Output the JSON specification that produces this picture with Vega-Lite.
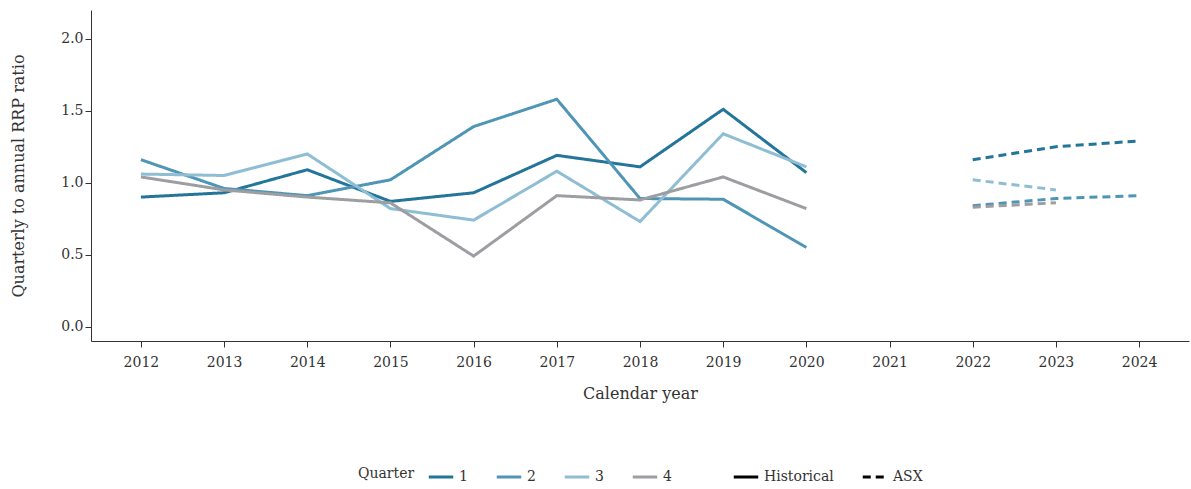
{
  "$schema": "https://vega.github.io/schema/vega-lite/v6.json",
  "width": 1098,
  "height": 331,
  "padding": {"left": 10, "top": 10, "right": 1, "bottom": 2},
  "config": {
    "font": "DejaVu Serif",
    "view": {"stroke": null},
    "axis": {"grid": false, "labelFontSize": 14, "titleFontSize": 16, "titleFontWeight": "normal", "labelColor": "#333", "titleColor": "#333", "domainColor": "#333", "tickColor": "#333"},
    "legend": {"labelFontSize": 14, "titleFontSize": 14, "titleFontWeight": "normal", "titleColor": "#333", "labelColor": "#333",
      "layout": {"bottom": {"anchor": "middle", "direction": "horizontal", "margin": 60}}}
  },
  "data": {"values": [
    {"year": 2012, "q": "1", "src": "Historical", "v": 0.90},
    {"year": 2013, "q": "1", "src": "Historical", "v": 0.93},
    {"year": 2014, "q": "1", "src": "Historical", "v": 1.09},
    {"year": 2015, "q": "1", "src": "Historical", "v": 0.87},
    {"year": 2016, "q": "1", "src": "Historical", "v": 0.93},
    {"year": 2017, "q": "1", "src": "Historical", "v": 1.19},
    {"year": 2018, "q": "1", "src": "Historical", "v": 1.11},
    {"year": 2019, "q": "1", "src": "Historical", "v": 1.51},
    {"year": 2020, "q": "1", "src": "Historical", "v": 1.07},
    {"year": 2012, "q": "2", "src": "Historical", "v": 1.16},
    {"year": 2013, "q": "2", "src": "Historical", "v": 0.96},
    {"year": 2014, "q": "2", "src": "Historical", "v": 0.91},
    {"year": 2015, "q": "2", "src": "Historical", "v": 1.02},
    {"year": 2016, "q": "2", "src": "Historical", "v": 1.39},
    {"year": 2017, "q": "2", "src": "Historical", "v": 1.58},
    {"year": 2018, "q": "2", "src": "Historical", "v": 0.89},
    {"year": 2019, "q": "2", "src": "Historical", "v": 0.885},
    {"year": 2020, "q": "2", "src": "Historical", "v": 0.55},
    {"year": 2012, "q": "3", "src": "Historical", "v": 1.06},
    {"year": 2013, "q": "3", "src": "Historical", "v": 1.05},
    {"year": 2014, "q": "3", "src": "Historical", "v": 1.20},
    {"year": 2015, "q": "3", "src": "Historical", "v": 0.82},
    {"year": 2016, "q": "3", "src": "Historical", "v": 0.74},
    {"year": 2017, "q": "3", "src": "Historical", "v": 1.08},
    {"year": 2018, "q": "3", "src": "Historical", "v": 0.73},
    {"year": 2019, "q": "3", "src": "Historical", "v": 1.34},
    {"year": 2020, "q": "3", "src": "Historical", "v": 1.11},
    {"year": 2012, "q": "4", "src": "Historical", "v": 1.04},
    {"year": 2013, "q": "4", "src": "Historical", "v": 0.95},
    {"year": 2014, "q": "4", "src": "Historical", "v": 0.90},
    {"year": 2015, "q": "4", "src": "Historical", "v": 0.86},
    {"year": 2016, "q": "4", "src": "Historical", "v": 0.49},
    {"year": 2017, "q": "4", "src": "Historical", "v": 0.91},
    {"year": 2018, "q": "4", "src": "Historical", "v": 0.88},
    {"year": 2019, "q": "4", "src": "Historical", "v": 1.04},
    {"year": 2020, "q": "4", "src": "Historical", "v": 0.82},
    {"year": 2022, "q": "1", "src": "ASX", "v": 1.16},
    {"year": 2023, "q": "1", "src": "ASX", "v": 1.25},
    {"year": 2024, "q": "1", "src": "ASX", "v": 1.29},
    {"year": 2022, "q": "2", "src": "ASX", "v": 0.84},
    {"year": 2023, "q": "2", "src": "ASX", "v": 0.89},
    {"year": 2024, "q": "2", "src": "ASX", "v": 0.91},
    {"year": 2022, "q": "3", "src": "ASX", "v": 1.02},
    {"year": 2023, "q": "3", "src": "ASX", "v": 0.95},
    {"year": 2022, "q": "4", "src": "ASX", "v": 0.83},
    {"year": 2023, "q": "4", "src": "ASX", "v": 0.86}
  ]},
  "mark": {"type": "line", "strokeWidth": 3},
  "encoding": {
    "x": {"field": "year", "type": "quantitative", "title": "Calendar year",
      "scale": {"domain": [2011.4, 2024.6], "nice": false, "zero": false},
      "axis": {"format": "d", "values": [2012,2013,2014,2015,2016,2017,2018,2019,2020,2021,2022,2023,2024], "labelPadding": 8, "titlePadding": 16, "tickSize": 6}},
    "y": {"field": "v", "type": "quantitative", "title": "Quarterly to annual RRP ratio",
      "scale": {"domain": [-0.1, 2.2], "nice": false},
      "axis": {"values": [0, 0.5, 1, 1.5, 2], "format": ".1f", "titlePadding": 34, "tickSize": 6}},
    "color": {"field": "q", "type": "nominal", "title": "Quarter",
      "scale": {"domain": ["1","2","3","4"], "range": ["#23759a", "#4f95b5", "#8fbdd3", "#9c9ea1"]},
      "legend": {"orient": "bottom", "direction": "horizontal", "titleOrient": "left", "titlePadding": 12, "titleBaseline": "middle", "titleAnchor": "middle", "symbolType": "stroke", "symbolStrokeWidth": 3, "symbolSize": 600, "columnPadding": 22, "offset": 62}},
    "strokeDash": {"field": "src", "type": "nominal", "title": null,
      "scale": {"domain": ["Historical", "ASX"], "range": [[1, 0], [8, 5]]},
      "legend": {"orient": "bottom", "direction": "horizontal", "symbolType": "stroke", "symbolStrokeColor": "black", "symbolStrokeWidth": 3, "symbolSize": 600, "columnPadding": 22, "offset": 62}},
    "detail": {"field": "src"}
  }
}
